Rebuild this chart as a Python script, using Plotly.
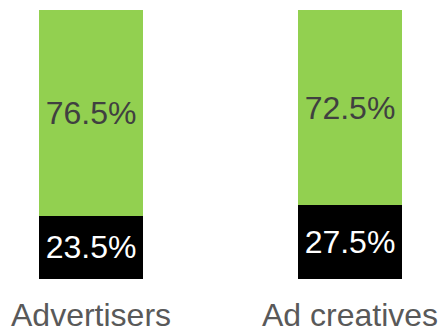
import plotly.graph_objects as go

categories = ["Advertisers", "Ad creatives"]
share_low = [23.5, 27.5]
share_high = [76.5, 72.5]

x_pos = list(range(len(categories)))
font_family = "Liberation Sans, Arial, sans-serif"

fig = go.Figure()
fig.add_trace(go.Bar(
    x=x_pos, y=share_low, width=0.4,
    marker=dict(color="#000000", line=dict(width=0)),
    text=[f"{v}%" for v in share_low], textposition="inside",
    insidetextanchor="middle", constraintext="none",
    textfont=dict(family=font_family, size=32, color="#ffffff"),
    hoverinfo="skip",
))
fig.add_trace(go.Bar(
    x=x_pos, y=share_high, width=0.4,
    marker=dict(color="#92D050", line=dict(width=0)),
    text=[f"{v}%" for v in share_high], textposition="inside",
    insidetextanchor="middle", constraintext="none",
    textfont=dict(family=font_family, size=32, color="#404040"),
    hoverinfo="skip",
))

fig.update_layout(
    barmode="stack",
    width=441, height=329,
    margin=dict(l=0, r=0, t=10, b=50),
    paper_bgcolor="white", plot_bgcolor="white",
    showlegend=False,
    xaxis=dict(
        range=[-0.3514, 1.3514], tickmode="array", tickvals=x_pos,
        ticktext=categories, showgrid=False, zeroline=False, showline=False,
        ticks="", automargin=False, ticklabelstandoff=14,
        tickfont=dict(family=font_family, size=32, color="#595959"),
    ),
    yaxis=dict(range=[0, 100], visible=False, fixedrange=True),
)

fig.write_html("out.html")
